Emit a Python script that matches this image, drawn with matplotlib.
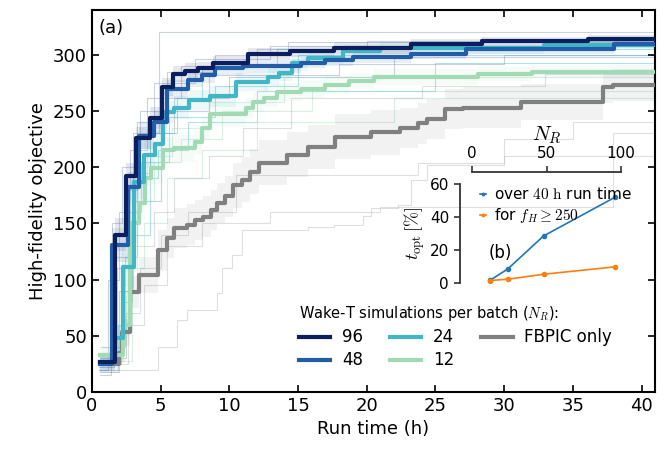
import matplotlib
matplotlib.use("Agg")
import matplotlib.pyplot as plt
plt.rcParams["mathtext.fontset"] = "cm"

# 平均の推移 (step, where='post')
t96 = [0.6, 1.7, 2.5, 3.2, 4.2, 5.1, 5.9, 6.8, 7.7, 8.8, 11.4, 14.4, 17.6, 23.2, 28.4, 36.1, 41]
f96 = [27, 140, 192, 226, 244, 271, 283, 286, 288, 293, 301, 303, 306, 310, 312, 314, 314]
s96 = [8, 15, 12, 10, 10, 8, 7, 7, 6, 6, 5, 5, 5, 4, 4, 4, 4]

t48 = [0.6, 1.5, 2.6, 3.4, 4.5, 5.5, 7.0, 8.0, 9.0, 11.0, 15.2, 17.0, 19.0, 23.2, 27.2, 38.0, 41]
f48 = [25, 131, 182, 228, 240, 270, 278, 282, 288, 290, 293, 295, 298, 301, 305, 310, 310]
s48 = [8, 15, 14, 12, 10, 8, 7, 7, 6, 6, 5, 5, 5, 5, 4, 4, 4]

t24 = [0.6, 1.7, 2.3, 3.1, 3.8, 4.6, 5.2, 6.0, 7.1, 8.6, 10.5, 12.8, 13.6, 14.6, 15.7, 18.3, 21.0, 32.9, 41]
f24 = [27, 48, 111, 187, 211, 221, 249, 253, 260, 263, 276, 280, 284, 293, 297, 303, 306, 309, 309]
s24 = [6, 12, 18, 15, 12, 12, 10, 10, 9, 9, 8, 8, 7, 7, 6, 6, 5, 5, 5]

t12 = [0.6, 2.3, 2.8, 3.4, 3.9, 4.3, 5.2, 6.0, 7.5, 8.0, 8.6, 11.2, 11.7, 12.5, 13.5, 15.2, 17.0, 18.7, 20.5, 28.1, 32.0, 41]
f12 = [33, 60, 150, 168, 190, 199, 215, 217, 222, 235, 247, 253, 258, 262, 267, 270, 273, 277, 280, 283, 285, 285]
s12 = [6, 12, 18, 15, 14, 14, 12, 12, 10, 10, 10, 9, 9, 9, 8, 8, 8, 7, 7, 6, 6, 6]

tfb = [1.5, 2.0, 2.2, 2.8, 3.4, 4.8, 5.5, 6.0, 6.9, 7.5, 8.1, 8.7, 9.1, 9.7, 10.3, 10.9, 11.5, 12.2, 14.2,
       15.7, 17.7, 20.3, 22.4, 23.7, 24.4, 25.7, 27.0, 31.2, 37.2, 37.9, 41]
ffb = [25, 35, 53, 89, 104, 126, 137, 146, 149, 153, 156, 162, 168, 174, 184, 189, 196, 204, 211,
       218, 227, 231, 235, 239, 243, 252, 253, 258, 271, 273, 273]
sfb = [8, 10, 12, 14, 16, 18, 18, 18, 18, 18, 18, 18, 18, 18, 20, 20, 20, 20, 20,
       20, 20, 20, 18, 18, 18, 18, 18, 16, 14, 14, 14]

# 個々の実行 (薄い線)
runs96 = [
    ([0.5, 1.2, 2.0, 3.0, 4.9, 41], [20, 100, 160, 230, 320, 322]),
    ([0.7, 1.5, 2.2, 3.5, 5.5, 9.0, 14.3, 41], [30, 150, 200, 250, 285, 300, 311, 316]),
    ([0.6, 1.4, 2.8, 4.0, 6.5, 12.0, 20.0, 41], [15, 120, 215, 262, 290, 305, 312, 318]),
]
runs48 = [
    ([0.5, 1.6, 2.4, 3.3, 4.5, 7.5, 13.0, 41], [22, 140, 180, 240, 275, 296, 308, 320]),
    ([0.8, 1.8, 3.0, 4.2, 6.0, 10.0, 22.0, 41], [35, 110, 195, 230, 262, 280, 298, 306]),
    ([0.6, 2.0, 2.9, 5.0, 8.5, 18.0, 30.0, 41], [18, 90, 170, 250, 282, 292, 300, 303]),
]
runs24 = [
    ([0.6, 2.1, 2.9, 3.6, 5.6, 9.0, 15.0, 41], [25, 80, 160, 205, 245, 272, 300, 312]),
    ([0.7, 2.4, 3.3, 4.8, 7.0, 12.0, 25.0, 41], [40, 120, 190, 215, 240, 268, 293, 300]),
    ([0.5, 1.9, 2.6, 4.2, 6.2, 8.0, 13.5, 41], [20, 60, 140, 230, 262, 290, 305, 315]),
]
runs12 = [
    ([0.6, 2.5, 3.3, 4.5, 6.5, 9.5, 16.0, 41], [30, 90, 170, 205, 225, 250, 268, 280]),
    ([0.8, 2.2, 3.0, 4.0, 5.8, 8.5, 14.0, 41], [40, 130, 185, 210, 235, 258, 280, 292]),
    ([0.6, 2.9, 3.8, 5.5, 8.0, 12.0, 22.0, 41], [28, 110, 150, 190, 215, 240, 262, 276]),
]
runsfb = [
    ([1.8, 4.8, 6.2, 6.9, 9.1, 9.5, 10.2, 10.9, 15.7, 17.6, 19.7, 20.3, 22.3, 23.2, 24.4, 30.0, 35.0, 41],
     [20, 40, 64, 73, 88, 110, 122, 144, 147, 149, 157, 164, 166, 189, 202, 225, 240, 250]),
    ([1.5, 2.5, 3.5, 5.0, 7.0, 10.5, 17.7, 23.7, 30.0, 41], [30, 70, 110, 140, 160, 193, 193, 204, 210, 212]),
    ([1.6, 2.3, 3.0, 4.5, 6.0, 8.5, 11.0, 14.5, 24.0, 33.0, 41], [28, 90, 130, 160, 190, 210, 235, 262, 272, 283, 285]),
    ([1.7, 2.6, 3.8, 5.5, 8.0, 13.0, 21.0, 37.9, 41], [25, 60, 95, 130, 150, 160, 165, 230, 233]),
]

# 挿入図 (b) のデータ
n_r = [12, 24, 48, 96]
t_opt_40h = [1.6, 8.5, 28.5, 52]
t_opt_250 = [1.5, 2.3, 5.3, 9.8]

labels = ["96", "48", "24", "12", "FBPIC only"]
colors = ["#0b1f5e", "#225ea8", "#41b6c4", "#a1dab4", "#808080"]
means = [(t96, f96, s96), (t48, f48, s48), (t24, f24, s24), (t12, f12, s12), (tfb, ffb, sfb)]
allruns = [runs96, runs48, runs24, runs12, runsfb]

fig = plt.figure(figsize=(6.7, 4.49), dpi=100)
ax = fig.add_axes([0.137, 0.127, 0.841, 0.851])

# 薄い線
for runs, c in zip(allruns, colors):
    rc = "#7f8fb0" if c in ("#0b1f5e", "#225ea8") else c
    if c == "#808080":
        rc = "#b0b0b0"
    for tx, fy in runs:
        ax.step(tx, fy, where="post", color=rc, lw=0.8, alpha=0.4, zorder=1)

# 帯と平均
for (tx, fy, sy), c in zip(means, colors):
    lo = [a - b for a, b in zip(fy, sy)]
    hi = [a + b for a, b in zip(fy, sy)]
    ax.fill_between(tx, lo, hi, step="post", color=c, alpha=0.1, lw=0, zorder=2)
handles = []
for (tx, fy, sy), c, lab in reversed(list(zip(means, colors, labels))):
    h, = ax.step(tx, fy, where="post", color=c, lw=3, label=lab, zorder=3)
    handles.append(h)
handles = handles[::-1]

ax.set_xlim(0, 41)
ax.set_ylim(0, 340)
ax.set_xticks(range(0, 41, 5))
ax.set_yticks(range(0, 301, 50))
ax.tick_params(direction="in", top=True, right=True, labelsize=13, length=5, width=1.2)
for sp in ax.spines.values():
    sp.set_linewidth(1.5)
ax.set_xlabel("Run time (h)", fontsize=13)
ax.set_ylabel("High-fidelity objective", fontsize=13)
ax.text(0.012, 0.975, "(a)", transform=ax.transAxes, fontsize=13, va="top", ha="left")

leg = ax.legend(handles=handles, ncol=3, loc="lower right", bbox_to_anchor=(0.95, 0.02),
                frameon=False, fontsize=12, handlelength=1.9, columnspacing=1.6,
                handletextpad=0.7, labelspacing=0.3,
                title="Wake-T simulations per batch ($N_R$):", title_fontsize=10.5)
leg._legend_box.align = "left"

# 挿入図
ins = fig.add_axes([0.7045, 0.3697, 0.2224, 0.2205])
ins.patch.set_alpha(0)
ins.plot(n_r, t_opt_40h, "-", color="#1f77b4", lw=1.2, marker=".", ms=6, label="over $40\\ \\mathrm{h}$ run time")
ins.plot(n_r, t_opt_250, "-", color="#ff7f0e", lw=1.2, marker=".", ms=6, label="for $f_H \\geq 250$")
ins.set_xlim(0, 100)
ins.set_ylim(0, 60)
ins.set_xticks([0, 50, 100])
ins.set_yticks([0, 20, 40, 60])
ins.xaxis.tick_top()
ins.xaxis.set_label_position("top")
ins.spines["right"].set_visible(False)
ins.spines["bottom"].set_visible(False)
ins.spines["left"].set_position(("outward", 9))
ins.spines["top"].set_position(("outward", 9))
ins.spines["left"].set_bounds(0, 60)
ins.spines["top"].set_bounds(0, 100)
for s in ("left", "top"):
    ins.spines[s].set_color("#333333")
    ins.spines[s].set_linewidth(1.3)
ins.tick_params(labelsize=11, length=4, width=1.2, color="#333333")
ins.set_xlabel("$N_R$", fontsize=15, labelpad=4)
ins.set_ylabel("$t_\\mathrm{opt}\\,[\\%]$", fontsize=13, labelpad=2)
ins.text(11, 18, "(b)", fontsize=12, ha="left", va="center")
ins.legend(loc="upper left", bbox_to_anchor=(-0.04, 1.12), frameon=False, fontsize=11,
           handlelength=0.4, handletextpad=0.5, markerscale=0.6, labelspacing=0.3)

fig.savefig("out.png", dpi=100)
